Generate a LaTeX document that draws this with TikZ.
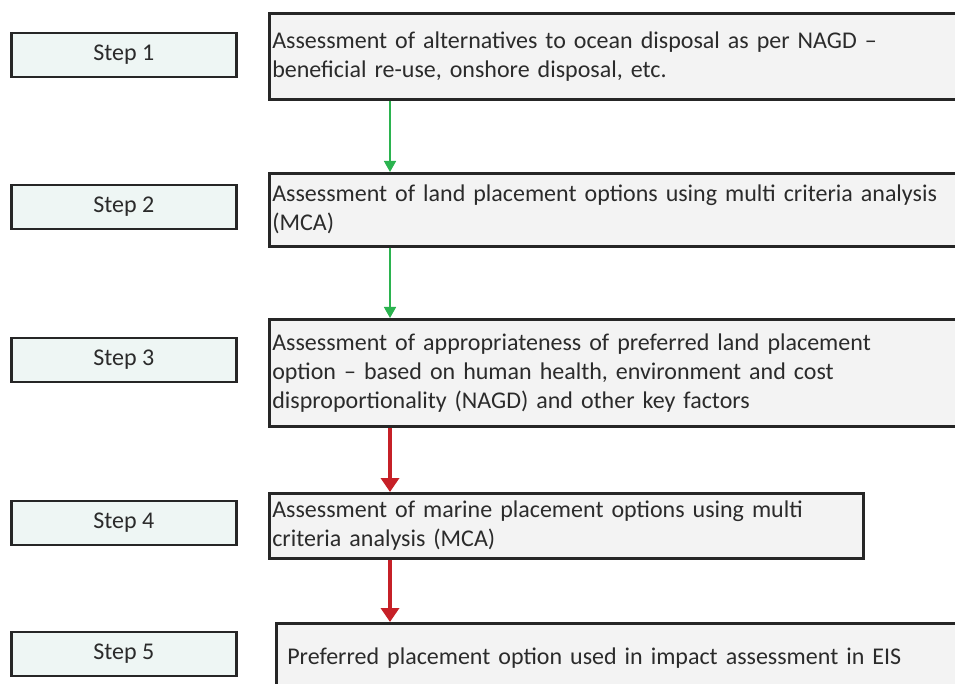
\documentclass[tikz,border=0pt]{standalone}
\usepackage{fontspec}
\setmainfont{Carlito}
\usetikzlibrary{arrows.meta,positioning}
\definecolor{boxgray}{HTML}{F3F3F3}
\definecolor{stepfill}{HTML}{EEF6F4}
\definecolor{txtgray}{HTML}{2B2B2B}
\definecolor{flowgreen}{HTML}{2BB34F}
\definecolor{flowred}{HTML}{C62027}
\tikzset{
  stepbox/.style={draw=black!85, line width=2.6pt, fill=stepfill, minimum width=225pt,
    minimum height=44pt, anchor=west, text=txtgray, font=\fontsize{24}{29}\selectfont},
  taskbox/.style={draw=black!85, line width=2.6pt, fill=boxgray, anchor=north west,
    text=txtgray, align=left, inner xsep=3pt, text width=688pt, font=\fontsize{24}{29}\selectfont},
  greenflow/.style={draw=flowgreen, line width=1.6pt, -{Triangle[width=12pt,length=11pt]}},
  redflow/.style={draw=flowred, line width=3.5pt, -{Triangle[width=18pt,length=14pt]}}
}
\begin{document}
\begin{tikzpicture}[x=1pt,y=-1pt]
    \useasboundingbox (0,0) rectangle (955,684);
    % steps on the left
    \node[stepbox] (step1) at (10,55) {Step 1};
    \node[stepbox] (step2) at (10,207) {Step 2};
    \node[stepbox] (step3) at (10,360) {Step 3};
    \node[stepbox] (step4) at (10,523) {Step 4};
    \node[stepbox] (step5) at (10,654) {Step 5};
    % tasks on the right
    \node[taskbox, minimum height=86pt] (task1) at (268,12)
        {Assessment of alternatives to ocean disposal as per NAGD --\\beneficial re-use, onshore disposal, etc.};
    \node[taskbox, minimum height=73pt] (task2) at (268,172)
        {Assessment of land placement options using multi criteria analysis\\(MCA)};
    \node[taskbox, minimum height=107pt] (task3) at (268,318)
        {Assessment of appropriateness of preferred land placement\\option -- based on human health, environment and cost\\disproportionality (NAGD) and other key factors};
    \node[taskbox, minimum height=65pt, text width=588pt] (task4) at (268,492)
        {Assessment of marine placement options using multi\\criteria analysis (MCA)};
    \node[taskbox, minimum height=70pt, inner xsep=11pt, text width=665pt] (task5) at (275,622)
        {Preferred placement option used in impact assessment in EIS};
    % flow
    \coordinate (flowx) at (390,0);
    \draw[greenflow] (task1.south -| flowx) -- (task2.north -| flowx);
    \draw[greenflow] (task2.south -| flowx) -- (task3.north -| flowx);
    \draw[redflow] (task3.south -| flowx) -- (task4.north -| flowx);
    \draw[redflow] (task4.south -| flowx) -- (task5.north -| flowx);
\end{tikzpicture}
\end{document}
